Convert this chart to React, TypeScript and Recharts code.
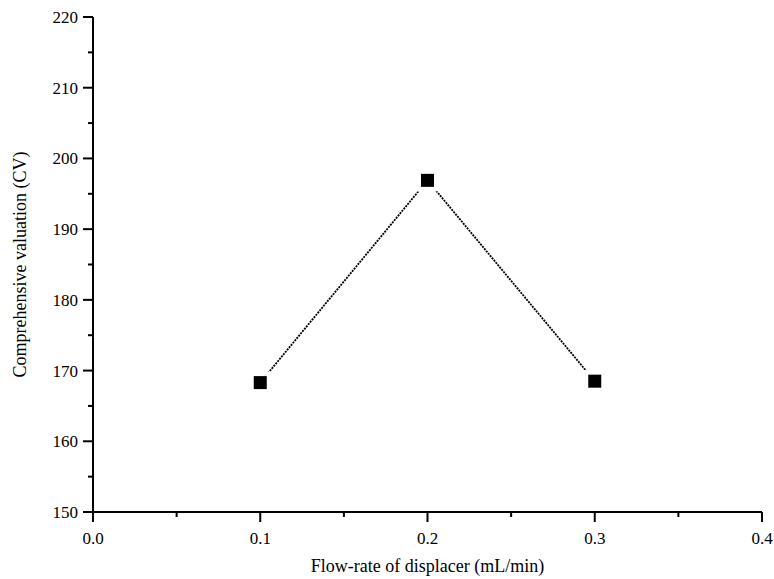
import { LineChart, Line, XAxis, YAxis } from 'recharts';

const flowRates = [0.1, 0.2, 0.3];
const valuations = [168.3, 196.9, 168.5];

const xTicks = [0, 0.05, 0.1, 0.15, 0.2, 0.25, 0.3, 0.35, 0.4];
const yTicks = [150, 155, 160, 165, 170, 175, 180, 185, 190, 195, 200, 205, 210, 215, 220];

const data = flowRates.map((x, i) => ({ x, cv: valuations[i] }));

const font = '"Liberation Serif", "Times New Roman", serif';
const tickStyle = { fontFamily: font, fontSize: 17, fill: '#000' };

const isMajorX = (v: number) => Math.abs(v * 10 - Math.round(v * 10)) < 1e-6;
const isMajorY = (v: number) => v % 10 === 0;

function XTick(props: any) {
  const { x, y, payload } = props;
  const major = isMajorX(payload.value);
  return (
    <g>
      <line x1={x} y1={y} x2={x} y2={y + (major ? 10 : 5)} stroke="#000" strokeWidth={2} />
      {major && (
        <text x={x} y={y + 32} textAnchor="middle" style={tickStyle}>
          {payload.value.toFixed(1)}
        </text>
      )}
    </g>
  );
}

function YTick(props: any) {
  const { x, y, payload } = props;
  const major = isMajorY(payload.value);
  return (
    <g>
      <line x1={x} y1={y} x2={x - (major ? 10 : 5)} y2={y} stroke="#000" strokeWidth={2} />
      {major && (
        <text x={x - 15} y={y + 6} textAnchor="end" style={tickStyle}>
          {payload.value}
        </text>
      )}
    </g>
  );
}

function SquareDot(props: any) {
  const { cx, cy } = props;
  return (
    <g>
      <rect x={cx - 11} y={cy - 11} width={22} height={22} fill="#fff" />
      <rect x={cx - 6.5} y={cy - 6.5} width={13} height={13} fill="#000" />
    </g>
  );
}

export default function App() {
  return (
    <div style={{ position: 'absolute', left: 0, top: 0, background: '#fff' }}>
      <LineChart width={774} height={579} data={data} margin={{ top: 17, right: 12, bottom: 3, left: 0 }}>
        <XAxis
          dataKey="x"
          type="number"
          domain={[0, 0.4]}
          ticks={xTicks}
          interval={0}
          tickSize={0}
          tickMargin={0}
          tickLine={false}
          tick={<XTick />}
          axisLine={{ stroke: '#000', strokeWidth: 2 }}
          height={64}
          label={{
            value: 'Flow-rate of displacer (mL/min)',
            position: 'insideBottom',
            offset: 4,
            style: { fontFamily: font, fontSize: 18, fill: '#000' },
          }}
        />
        <YAxis
          type="number"
          domain={[150, 220]}
          ticks={yTicks}
          interval={0}
          tickSize={0}
          tickMargin={0}
          tickLine={false}
          tick={<YTick />}
          axisLine={{ stroke: '#000', strokeWidth: 2 }}
          width={93}
          label={{
            value: 'Comprehensive valuation (CV)',
            angle: -90,
            position: 'insideLeft',
            offset: 20,
            style: { fontFamily: font, fontSize: 18, fill: '#000', textAnchor: 'middle' },
          }}
        />
        <Line
          dataKey="cv"
          type="linear"
          stroke="#000"
          strokeWidth={1.8}
          strokeDasharray="2 1"
          dot={<SquareDot />}
          activeDot={false}
          isAnimationActive={false}
        />
      </LineChart>
    </div>
  );
}
